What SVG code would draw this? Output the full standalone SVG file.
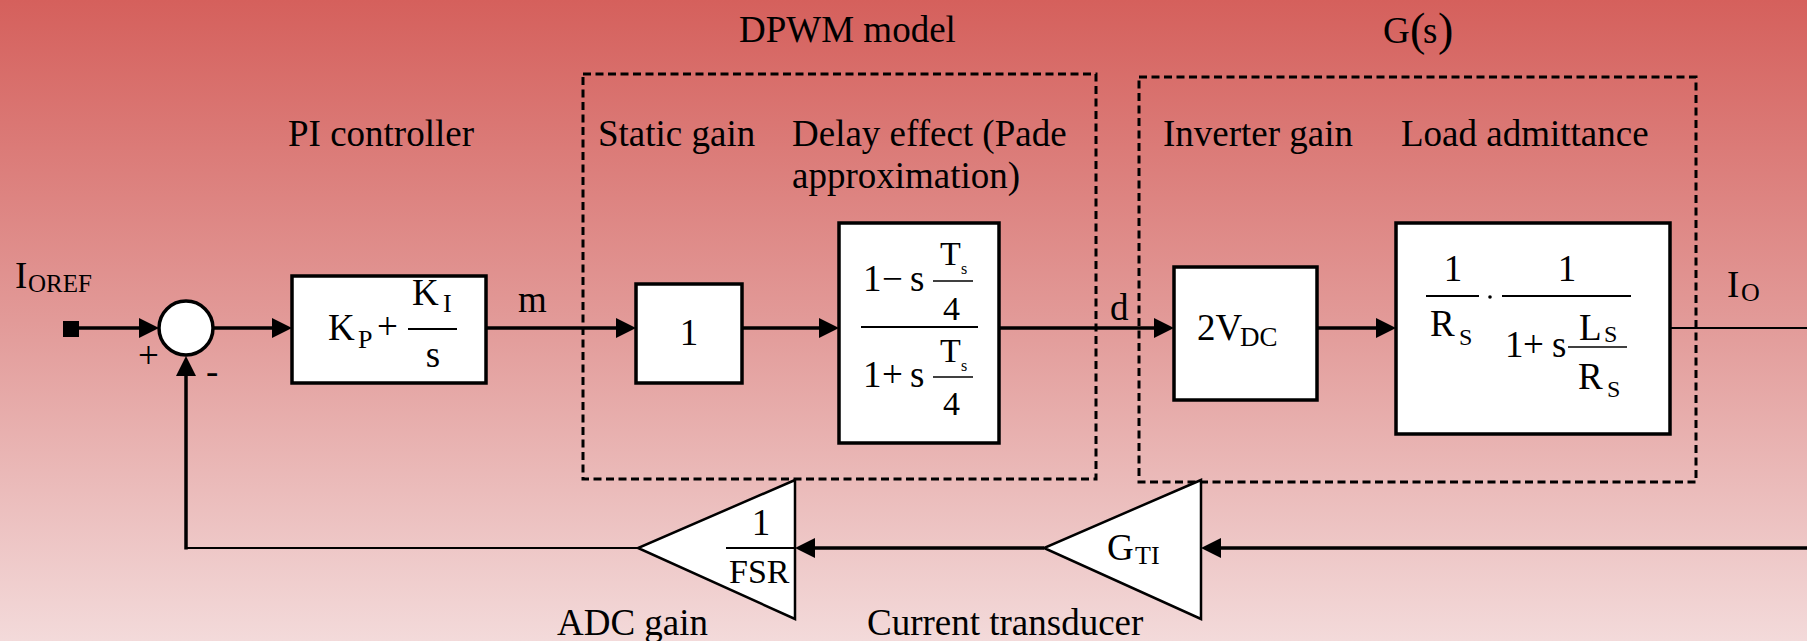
<svg xmlns="http://www.w3.org/2000/svg" width="1807" height="641" viewBox="0 0 1807 641">
  <defs>
    <linearGradient id="bg" x1="0" y1="0" x2="0" y2="1">
      <stop offset="0" stop-color="#d5605c"/>
      <stop offset="0.5" stop-color="#e29a98"/>
      <stop offset="1" stop-color="#f3dada"/>
    </linearGradient>
    <!-- filled arrowhead; tip sits 10px past the end of the path -->
    <marker id="arrow" viewBox="0 0 20 20" refX="10" refY="10" markerWidth="20" markerHeight="20" markerUnits="userSpaceOnUse" orient="auto">
      <path d="M0,0 L20,10 L0,20 Z" fill="#000"/>
    </marker>
    <style>
      text { font-family: "Liberation Serif", "Times New Roman", serif; fill: #000; }
      .lbl { font-size: 37px; }
      .big { font-size: 37px; }
      .mid { font-size: 34px; }
      .sub { font-size: 26px; }
      .tiny { font-size: 16px; }
      .block { fill: #fff; stroke: #000; stroke-width: 3.5; }
      .tri { fill: #fff; stroke: #000; stroke-width: 2.5; stroke-linejoin: miter; }
      .group { fill: none; stroke: #000; stroke-width: 3; stroke-dasharray: 8 4.5; }
      .wire { fill: none; stroke: #000; stroke-width: 3.5; }
      .thin { fill: none; stroke: #000; stroke-width: 2; }
      .frac { stroke: #000; stroke-width: 2; }
      .fracs { stroke: #000; stroke-width: 1.5; }
    </style>
  </defs>

  <rect x="0" y="0" width="1807" height="641" fill="url(#bg)"/>

  <!-- grouping frames -->
  <g id="dpwm-frame">
    <rect class="group" x="583" y="74" width="513" height="405"/>
    <text class="lbl" x="739" y="42">DPWM model</text>
  </g>
  <g id="plant-frame">
    <rect class="group" x="1139" y="77" width="557" height="405"/>
    <text class="lbl" x="1383" y="43">G<tspan x="1410" y="45" font-size="46">(</tspan><tspan x="1423" y="43">s</tspan><tspan x="1438" y="45" font-size="46">)</tspan></text>
  </g>

  <!-- connectors -->
  <g id="connectors">
    <path class="wire" d="M79,328 H149" marker-end="url(#arrow)"/>
    <path class="wire" d="M213,328 H282" marker-end="url(#arrow)"/>
    <path class="wire" d="M486,328 H626" marker-end="url(#arrow)"/>
    <path class="wire" d="M742,328 H829" marker-end="url(#arrow)"/>
    <path class="wire" d="M999,328 H1164" marker-end="url(#arrow)"/>
    <path class="wire" d="M1317,328 H1386" marker-end="url(#arrow)"/>
    <path class="thin" d="M1670,328 H1807"/>
    <path class="wire" d="M1807,548 H1211" marker-end="url(#arrow)"/>
    <path class="wire" d="M1044,548 H805" marker-end="url(#arrow)"/>
    <path class="thin" d="M638,548 H186"/>
    <path class="wire" d="M186,549.5 V366" marker-end="url(#arrow)"/>
    <text class="lbl" x="518" y="312">m</text>
    <text class="lbl" x="1110" y="320">d</text>
    <text class="lbl" x="1727" y="297">I<tspan class="sub" x="1741" y="301">O</tspan></text>
  </g>

  <!-- reference input -->
  <g id="input">
    <rect x="63" y="321" width="16" height="16" fill="#000"/>
    <text class="lbl" x="15" y="288">I<tspan x="28" y="292" font-size="25">OREF</tspan></text>
  </g>

  <!-- summing junction -->
  <g id="sum">
    <circle cx="186" cy="328" r="27" fill="#fff" stroke="#000" stroke-width="3.5"/>
    <text class="lbl" x="138" y="368">+</text>
    <text class="lbl" x="206" y="384">-</text>
  </g>

  <!-- PI controller -->
  <g id="pi">
    <text class="lbl" x="288" y="146">PI controller</text>
    <rect class="block" x="292" y="276" width="194" height="107"/>
    <text class="big" x="328" y="340">K<tspan class="sub" x="358" y="348">P</tspan></text>
    <text class="big" x="377" y="339">+</text>
    <line class="frac" x1="408" y1="329" x2="457" y2="329"/>
    <text class="big" x="412" y="305">K<tspan class="sub" x="443" y="312">I</tspan></text>
    <text class="big" x="433" y="367" text-anchor="middle">s</text>
  </g>

  <!-- DPWM static gain -->
  <g id="static-gain">
    <text class="lbl" x="598" y="146">Static gain</text>
    <rect class="block" x="636" y="284" width="106" height="99"/>
    <text class="big" x="689" y="345" text-anchor="middle">1</text>
  </g>

  <!-- DPWM delay (Pade approximation) -->
  <g id="delay">
    <text class="lbl" x="792" y="146">Delay effect (Pade</text>
    <text class="lbl" x="792" y="188">approximation)</text>
    <rect class="block" x="839" y="223" width="160" height="220"/>
    <line class="frac" x1="861" y1="327" x2="978" y2="327"/>
    <text class="big" x="863" y="291">1<tspan x="882">−</tspan><tspan x="910">s</tspan></text>
    <line class="fracs" x1="933" y1="281" x2="973" y2="281"/>
    <text class="mid" x="940" y="265">T<tspan class="tiny" x="961" y="274">s</tspan></text>
    <text class="mid" x="943" y="320">4</text>
    <text class="big" x="863" y="387">1<tspan x="882">+</tspan><tspan x="910">s</tspan></text>
    <line class="fracs" x1="933" y1="377" x2="973" y2="377"/>
    <text class="mid" x="940" y="362">T<tspan class="tiny" x="961" y="371">s</tspan></text>
    <text class="mid" x="943" y="415">4</text>
  </g>

  <!-- inverter gain -->
  <g id="inverter">
    <text class="lbl" x="1163" y="146">Inverter gain</text>
    <rect class="block" x="1174" y="267" width="143" height="133"/>
    <text class="big" x="1197" y="340">2V<tspan x="1240" y="346" font-size="27">DC</tspan></text>
  </g>

  <!-- load admittance -->
  <g id="load">
    <text class="lbl" x="1401" y="146">Load admittance</text>
    <rect class="block" x="1396" y="223" width="274" height="211"/>
    <text class="big" x="1453" y="281" text-anchor="middle">1</text>
    <line class="frac" x1="1426" y1="296" x2="1479" y2="296"/>
    <text class="big" x="1430" y="336">R<tspan font-size="24" x="1459" y="345">S</tspan></text>
    <circle cx="1490" cy="297" r="1.8" fill="#000"/>
    <text class="big" x="1567" y="281" text-anchor="middle">1</text>
    <line class="frac" x1="1502" y1="296" x2="1631" y2="296"/>
    <text class="big" x="1505" y="357">1<tspan x="1523">+</tspan><tspan x="1552">s</tspan></text>
    <line class="fracs" x1="1568" y1="347" x2="1627" y2="347"/>
    <text class="big" x="1579" y="340">L<tspan font-size="24" x="1604" y="342">S</tspan></text>
    <text class="big" x="1578" y="389">R<tspan font-size="24" x="1607" y="397">S</tspan></text>
  </g>

  <!-- current transducer -->
  <g id="transducer">
    <polygon class="tri" points="1201,480 1201,619 1044,548"/>
    <text class="big" x="1107" y="560">G<tspan class="sub" x="1135" y="564">TI</tspan></text>
    <text class="lbl" x="867" y="635">Current transducer</text>
  </g>

  <!-- ADC gain -->
  <g id="adc">
    <polygon class="tri" points="795,480 795,619 638,548"/>
    <text class="big" x="761" y="535" text-anchor="middle">1</text>
    <line class="frac" x1="726" y1="548" x2="795" y2="548"/>
    <text class="mid" x="729" y="583">FSR</text>
    <text class="lbl" x="557" y="635">ADC gain</text>
  </g>
</svg>
